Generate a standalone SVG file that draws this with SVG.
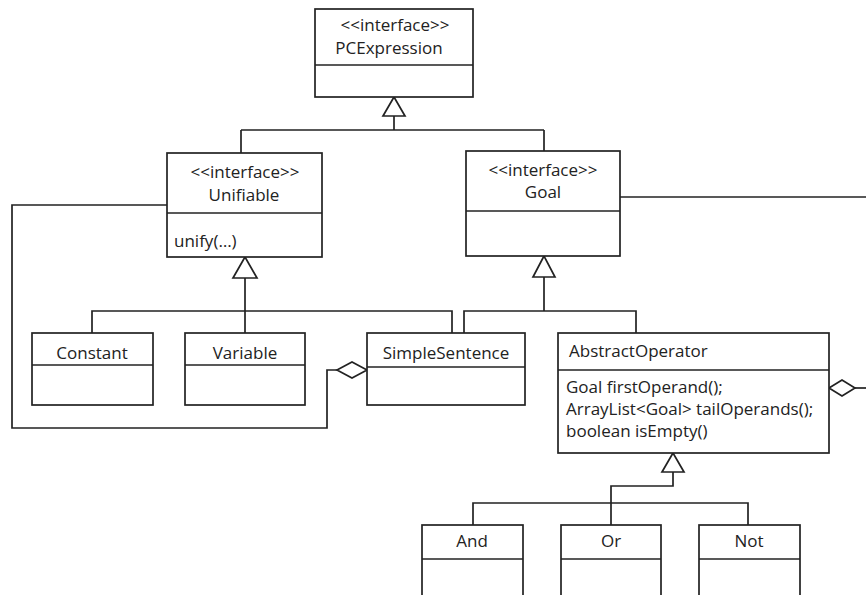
<svg xmlns="http://www.w3.org/2000/svg" width="866" height="595" viewBox="0 0 866 595">
<style>
.box{fill:#fff;stroke:#222;stroke-width:1.7}
.sep{stroke:#222;stroke-width:1.7}
.ln{fill:none;stroke:#222;stroke-width:1.7}
.tri{fill:#fff;stroke:#222;stroke-width:1.7}
.dia{fill:#fff;stroke:#222;stroke-width:1.7}
text{font-family:"Open Sans","Liberation Sans",sans-serif;font-size:17px;fill:#222}
.c{text-anchor:middle}
</style>
<rect width="866" height="595" fill="#fff"/>
<g id="connectors">
<path class="ln" d="M394 116 V130 M241 130 H544 M241 130 V153 M544 130 V151"/>
<path class="ln" d="M620 197 H866"/>
<path class="ln" d="M167 205 H12 V428 H327 V370 H337"/>
<path class="ln" d="M245 278 V333 M92 333 V311 H452 V333"/>
<path class="ln" d="M544 277 V311 M464 333 V311 H636 V333"/>
<path class="ln" d="M855 388 H866"/>
<path class="ln" d="M673 472 V486 H611 V525 M473 525 V503 H748 V525"/>
<polygon class="tri" points="394,97 383,116 405,116"/>
<polygon class="tri" points="245,257 233,278 257,278"/>
<polygon class="tri" points="544,256 533,277 555,277"/>
<polygon class="tri" points="673,453 662,472 684,472"/>
<polygon class="dia" points="337,370 352,362 367,370 352,378"/>
<polygon class="dia" points="829,388 842,380 855,388 842,396"/>
</g>
<g id="PCExpression">
<rect class="box" x="315" y="9" width="158" height="88"/>
<line class="sep" x1="315" y1="65" x2="473" y2="65"/>
<text class="c" x="395" y="31">&lt;&lt;interface&gt;&gt;</text>
<text class="c" x="389" y="54">PCExpression</text>
</g>
<g id="Unifiable">
<rect class="box" x="167" y="153" width="155" height="104"/>
<line class="sep" x1="167" y1="213" x2="322" y2="213"/>
<text class="c" x="245" y="178">&lt;&lt;interface&gt;&gt;</text>
<text class="c" x="244" y="201">Unifiable</text>
<text x="174" y="247">unify(…)</text>
</g>
<g id="Goal">
<rect class="box" x="466" y="151" width="154" height="105"/>
<line class="sep" x1="466" y1="211" x2="620" y2="211"/>
<text class="c" x="543" y="176">&lt;&lt;interface&gt;&gt;</text>
<text class="c" x="543" y="198">Goal</text>
</g>
<g id="Constant">
<rect class="box" x="32" y="333" width="121" height="72"/>
<line class="sep" x1="32" y1="365" x2="153" y2="365"/>
<text class="c" x="92" y="359">Constant</text>
</g>
<g id="Variable">
<rect class="box" x="185" y="333" width="120" height="72"/>
<line class="sep" x1="185" y1="365" x2="305" y2="365"/>
<text class="c" x="245" y="359">Variable</text>
</g>
<g id="SimpleSentence">
<rect class="box" x="367" y="333" width="158" height="72"/>
<line class="sep" x1="367" y1="367" x2="525" y2="367"/>
<text class="c" x="446" y="359">SimpleSentence</text>
</g>
<g id="AbstractOperator">
<rect class="box" x="558" y="333" width="271" height="120"/>
<line class="sep" x1="558" y1="370" x2="829" y2="370"/>
<text x="569" y="357">AbstractOperator</text>
<text x="566" y="393">Goal firstOperand();</text>
<text x="566" y="415">ArrayList&lt;Goal&gt; tailOperands();</text>
<text x="566" y="437">boolean isEmpty()</text>
</g>
<g id="And">
<rect class="box" x="422" y="525" width="101" height="80"/>
<line class="sep" x1="422" y1="559" x2="523" y2="559"/>
<text class="c" x="472" y="547">And</text>
</g>
<g id="Or">
<rect class="box" x="561" y="525" width="100" height="80"/>
<line class="sep" x1="561" y1="559" x2="661" y2="559"/>
<text class="c" x="611" y="547">Or</text>
</g>
<g id="Not">
<rect class="box" x="699" y="525" width="101" height="80"/>
<line class="sep" x1="699" y1="559" x2="800" y2="559"/>
<text class="c" x="749" y="547">Not</text>
</g>
</svg>
